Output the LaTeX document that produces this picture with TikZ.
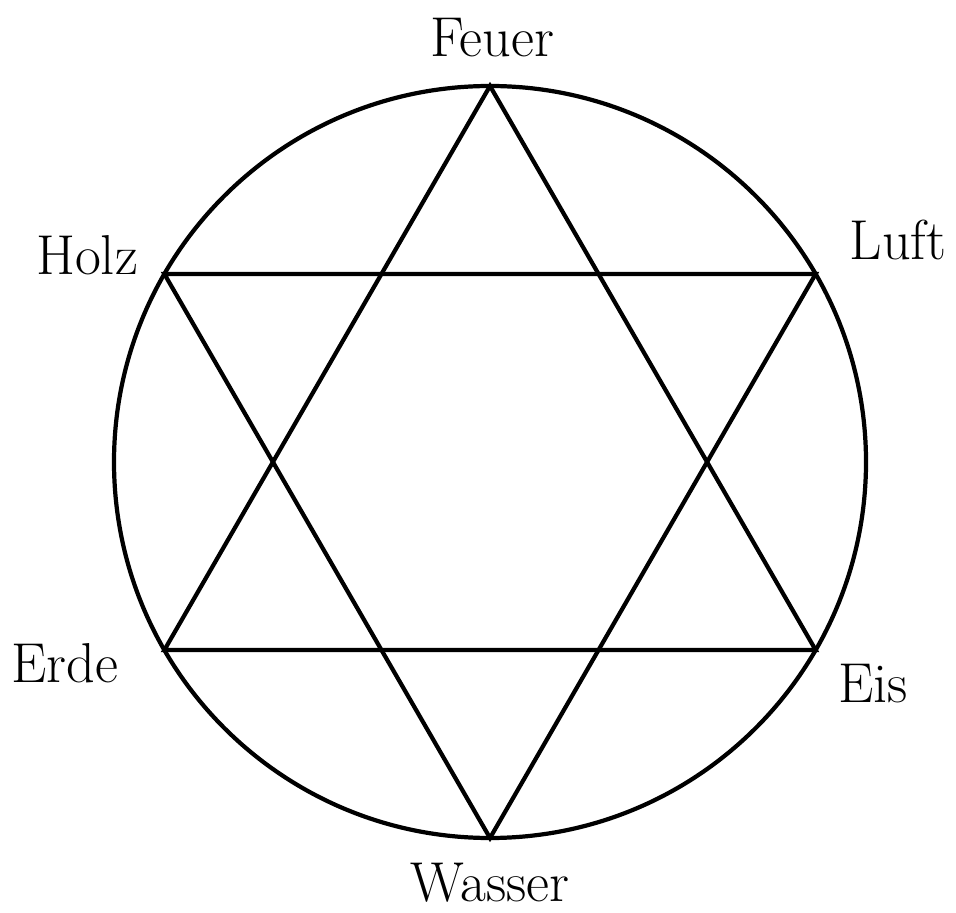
\documentclass[tikz,border=0pt]{standalone}
\usetikzlibrary{calc}

\begin{document}
\begin{tikzpicture}[
    element/.style = {font=\fontsize{16}{19}\selectfont, inner sep=0pt},
    ring/.style = {line width=1.2pt},
    star/.style = {line width=1.2pt, line join=miter}
]
    % Frame of the picture
    \useasboundingbox (0,0) rectangle (9.56,9.12);

    % Circle
    \coordinate (O) at (4.90,4.50);
    \draw[ring] (O) circle (3.76);

    % Points of the star
    \coordinate (top)  at ($(O)+(90:3.76)$);
    \coordinate (ul)   at ($(O)+(150:3.76)$);
    \coordinate (ll)   at ($(O)+(210:3.76)$);
    \coordinate (bot)  at ($(O)+(270:3.76)$);
    \coordinate (lr)   at ($(O)+(330:3.76)$);
    \coordinate (ur)   at ($(O)+(30:3.76)$);

    % Two triangles
    \draw[star] (top) -- (ll) -- (lr) -- cycle;
    \draw[star] (bot) -- (ul) -- (ur) -- cycle;

    % Labels of the elements
    \node[element] (feuer)  at (4.92,8.74) {Feuer};
    \node[element] (holz)   at (0.87,6.57) {Holz};
    \node[element] (luft)   at (8.98,6.72) {Luft};
    \node[element] (erde)   at (0.65,2.49) {Erde};
    \node[element] (eis)    at (8.73,2.28) {Eis};
    \node[element] (wasser) at (4.90,0.29) {Wasser};
\end{tikzpicture}
\end{document}
